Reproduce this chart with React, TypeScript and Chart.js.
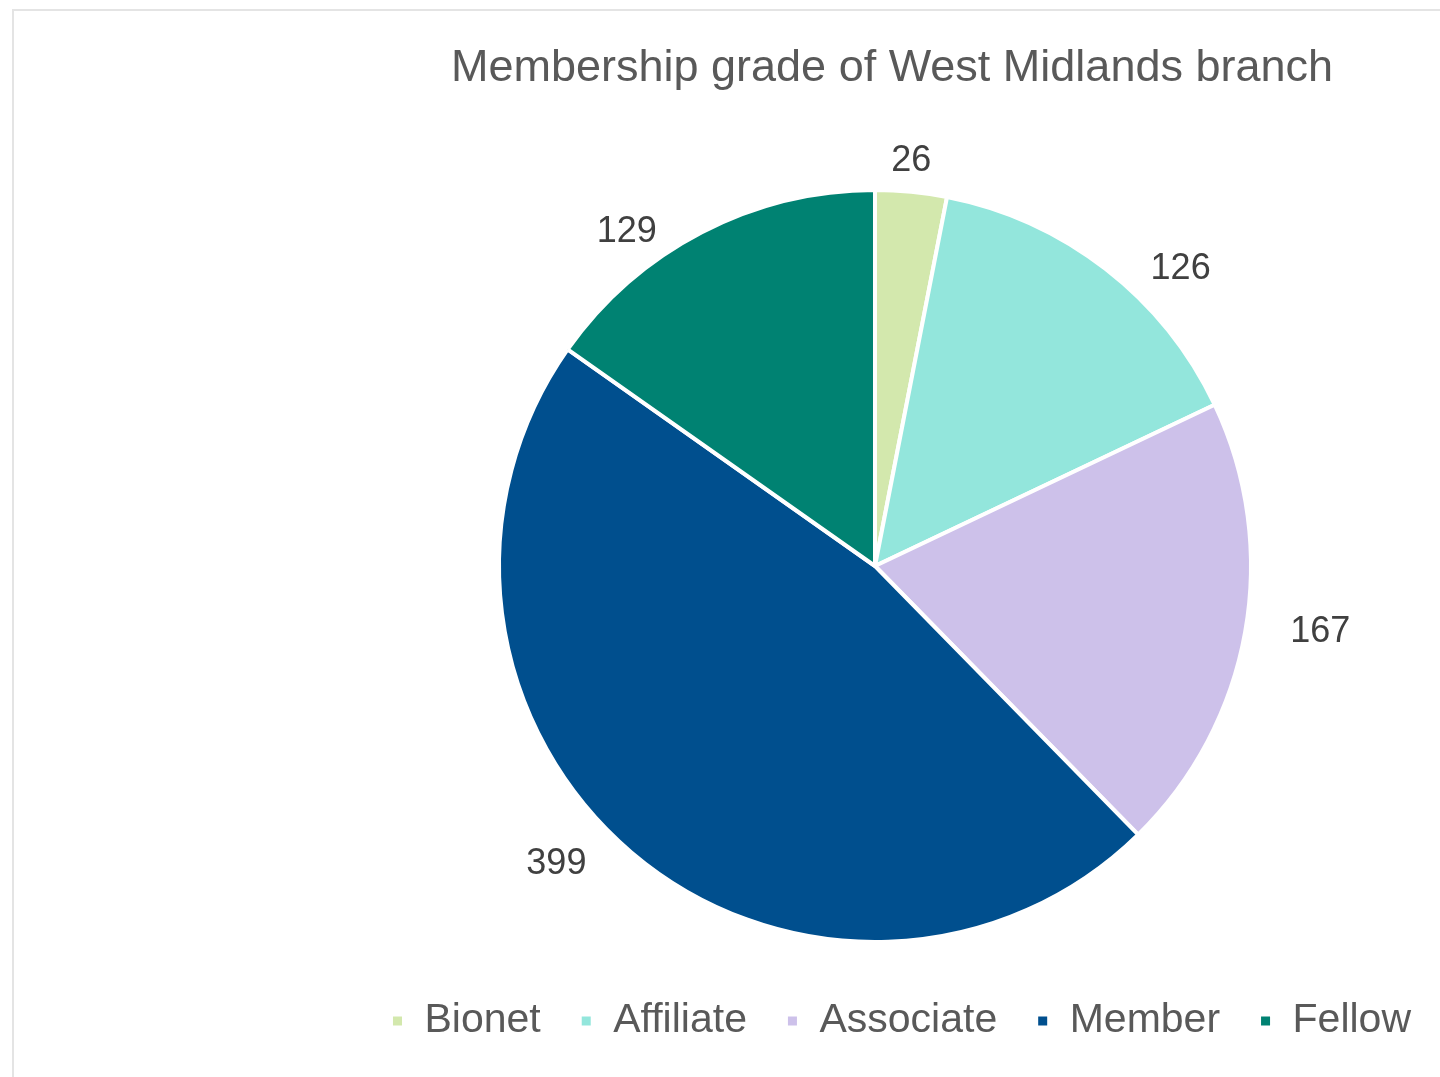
import React, { useEffect, useRef } from "react";
import { Chart, registerables } from "chart.js";

Chart.register(...registerables);

const chartTitle = "Membership grade of West Midlands branch";
const categories = ["Bionet", "Affiliate", "Associate", "Member", "Fellow"];
const members = [26, 126, 167, 399, 129];
const sliceColors = ["#d3e8ad", "#93e6dc", "#cdc1ea", "#004f8e", "#008272"];

const FONT = "'Liberation Sans', Arial, Helvetica, sans-serif";

const outsideLabels = {
  id: "outsideLabels",
  afterDatasetsDraw(chart: any) {
    const ctx = chart.ctx;
    const meta = chart.getDatasetMeta(0);
    const values = chart.data.datasets[0].data;
    ctx.save();
    ctx.font = `36px ${FONT}`;
    ctx.fillStyle = "#404040";
    ctx.textAlign = "center";
    ctx.textBaseline = "middle";
    meta.data.forEach((arc: any, i: number) => {
      const { x, y, startAngle, endAngle, outerRadius } = arc.getProps(
        ["x", "y", "startAngle", "endAngle", "outerRadius"],
        true
      );
      const mid = (startAngle + endAngle) / 2;
      const ux = Math.cos(mid);
      const uy = Math.sin(mid);
      const ex = x + ux * outerRadius;
      const ey = y + uy * outerRadius;
      const text = String(values[i]);
      const w = ctx.measureText(text).width;
      const h = 26;
      let lx: number, ly: number;
      if (Math.abs(ux) < 0.3) {
        lx = ex;
        ly = ey + Math.sign(uy) * (18 + h / 2);
      } else {
        lx = ex + Math.sign(ux) * (45 + w / 2);
        ly = ey + (uy > 0.5 ? 12 : 0);
      }
      ctx.fillText(text, lx, ly);
    });
    ctx.restore();
  },
};

const shiftBlocks = {
  id: "shiftBlocks",
  afterLayout(chart: any) {
    const t = chart.titleBlock;
    if (t) {
      t.left += 17;
      t.right += 17;
    }
    const l = chart.legend;
    if (l) {
      l.left += 26;
      l.right += 26;
    }
  },
};

export default function App() {
  const ref = useRef<HTMLCanvasElement | null>(null);

  useEffect(() => {
    if (!ref.current) return;
    const chart = new Chart(ref.current, {
      type: "pie",
      data: {
        labels: categories,
        datasets: [
          {
            data: members,
            backgroundColor: sliceColors,
            borderColor: "#ffffff",
            borderWidth: 4,
            radius: 376,
          } as any,
        ],
      },
      options: {
        responsive: false,
        animation: false,
        layout: { padding: { left: 310, right: 0, top: 0, bottom: 25.5 } },
        plugins: {
          title: {
            display: true,
            text: chartTitle,
            color: "#595959",
            font: { family: FONT, size: 45, weight: "normal" },
            padding: { top: 42, bottom: 74.5 },
          },
          legend: {
            display: true,
            position: "bottom",
            labels: {
              boxWidth: 13,
              boxHeight: 13,
              padding: 39,
              color: "#595959",
              font: { family: FONT, size: 41 },
            },
          },
          tooltip: { enabled: false },
        },
      } as any,
      plugins: [outsideLabels, shiftBlocks],
    });
    return () => chart.destroy();
  }, []);

  return (
    <div style={{ position: "absolute", left: 0, top: 0, width: 1440, height: 1077, overflow: "hidden", background: "#ffffff" }}>
      <div
        style={{
          position: "absolute",
          left: 12,
          top: 9,
          width: 1440,
          height: 1077,
          borderLeft: "2px solid #e4e4e4",
          borderTop: "2px solid #e4e4e4",
        }}
      />
      <canvas
        ref={ref}
        width={1440}
        height={1077}
        style={{ position: "absolute", left: 0, top: 0, width: 1440, height: 1077 }}
      />
    </div>
  );
}
